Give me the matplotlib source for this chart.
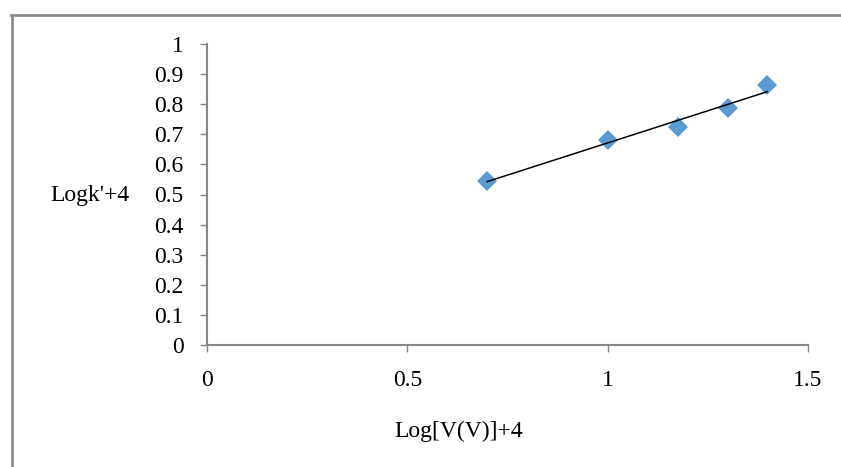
import matplotlib
matplotlib.use("Agg")
import matplotlib.pyplot as plt
import numpy as np
from matplotlib.lines import Line2D

# data
log_v = [0.699, 1.0, 1.176, 1.301, 1.398]
log_k = [0.546, 0.681, 0.725, 0.786, 0.864]
x_ticks = [0, 0.5, 1, 1.5]
y_ticks = [0, 0.1, 0.2, 0.3, 0.4, 0.5, 0.6, 0.7, 0.8, 0.9, 1]

plt.rcParams['font.family'] = ['Liberation Serif', 'DejaVu Serif']
axis_gray = '#868686'
fs = 17

W, H = 841, 467
fig = plt.figure(figsize=(W / 100, H / 100), dpi=100)
ax = fig.add_axes([207 / W, 1 - 345 / H, (808 - 207) / W, (345 - 44) / H])

ax.plot(log_v, log_k, linestyle='none', marker='D', markersize=10.5,
        color='#5B9BD5', markeredgewidth=0, zorder=3)

# linear trendline
slope, icpt = np.polyfit(log_v, log_k, 1)
xs = np.array([min(log_v), max(log_v)])
ax.plot(xs, slope * xs + icpt, color='black', linewidth=1.1, zorder=4)

ax.set_xlim(0, 1.5)
ax.set_ylim(0, 1)
ax.set_xticks(x_ticks)
ax.set_xticklabels(['0', '0.5', '1', '1.5'])
ax.set_yticks(y_ticks)
ax.set_yticklabels([f'{t:g}' for t in y_ticks])

for s in ['top', 'right']:
    ax.spines[s].set_visible(False)
for s in ['left', 'bottom']:
    ax.spines[s].set_color(axis_gray)
    ax.spines[s].set_linewidth(1.5)

ax.tick_params(axis='both', colors=axis_gray, labelcolor='black',
               labelsize=fs, length=5, width=1, direction='out')
ax.tick_params(axis='x', pad=13)
ax.tick_params(axis='y', pad=12)

fig.text(90 / W, 1 - 195 / H, "Logk'+4", fontsize=fs, ha='center', va='center')
fig.text(459 / W, 1 - 431 / H, "Log[V(V)]+4", fontsize=fs, ha='center', va='center')

# outer frame (left and top edges visible)
fig.add_artist(Line2D([12 / W, 12 / W], [0, 1 - 15 / H], transform=fig.transFigure,
                      color='#8c8c8c', linewidth=2))
fig.add_artist(Line2D([11 / W, 1], [1 - 15 / H, 1 - 15 / H], transform=fig.transFigure,
                      color='#8c8c8c', linewidth=2))

fig.savefig('out.png', dpi=100)
